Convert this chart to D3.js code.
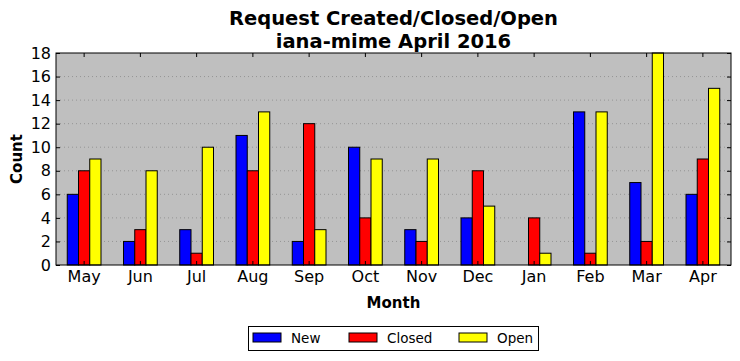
<!DOCTYPE html>
<html lang="en">
<head>
<meta charset="utf-8">
<script src="https://d3js.org/d3.v7.min.js"></script>
<style>
    body{ margin:0; padding:0; background:#fff; }
    svg{ display:block; font-family:"DejaVu Sans", sans-serif; }
</style>
</head>
<body>
<svg id="chart" width="740" height="361"></svg>
<script>
// values
const months=['May','Jun','Jul','Aug','Sep','Oct','Nov','Dec','Jan','Feb','Mar','Apr'];
const newCounts=[6,2,3,11,2,10,3,4,0,13,7,6];
const closedCounts=[8,3,1,8,12,4,2,8,4,1,2,9];
const openCounts=[9,8,10,13,3,9,9,5,1,13,18,15];
const yTicks=[0,2,4,6,8,10,12,14,16,18];

const series=[
    {name:'New',values:newCounts,color:'#0000ff'},
    {name:'Closed',values:closedCounts,color:'#ff0000'},
    {name:'Open',values:openCounts,color:'#ffff00'}
];

const plotL=56,plotR=731,plotT=53,plotB=265;
const svg=d3.select('#chart');

const xScale=d3.scaleBand().domain(months).range([plotL,plotR]);
const yScale=d3.scaleLinear().domain([0,18]).range([plotB,plotT]);
const barW=xScale.bandwidth()*0.2;

svg.append('rect')
   .attr('x',plotL).attr('y',plotT)
   .attr('width',plotR-plotL).attr('height',plotB-plotT)
   .attr('fill','#bfbfbf');

// dotted grid
svg.append('g').selectAll('line')
   .data(yTicks.slice(1,-1))
   .enter().append('line')
   .attr('x1',plotL).attr('x2',plotR)
   .attr('y1',d=>yScale(d)).attr('y2',d=>yScale(d))
   .attr('stroke','#8a8a8a').attr('stroke-width',0.8)
   .attr('stroke-dasharray','1,3');

series.forEach((s,si)=>{
    svg.append('g').selectAll('rect')
       .data(s.values)
       .enter().append('rect')
       .attr('x',(d,i)=>xScale(months[i])+xScale.bandwidth()/2+(si-1.5)*barW)
       .attr('y',d=>yScale(d))
       .attr('width',barW)
       .attr('height',d=>plotB-yScale(d))
       .attr('fill',s.color)
       .attr('stroke','#000')
       .attr('stroke-width',d=>d>0?1:0);
});

// axes with inward ticks on all sides
const xAxisB=d3.axisBottom(xScale).tickSize(-4).tickPadding(6);
const xAxisT=d3.axisTop(xScale).tickSize(-4).tickFormat('');
const yAxisL=d3.axisLeft(yScale).tickValues(yTicks).tickSize(-4).tickPadding(5);
const yAxisR=d3.axisRight(yScale).tickValues(yTicks).tickSize(-4).tickFormat('');

svg.append('g').attr('transform','translate(0,'+plotB+')').call(xAxisB);
svg.append('g').attr('transform','translate(0,'+plotT+')').call(xAxisT);
svg.append('g').attr('transform','translate('+plotL+',0)').call(yAxisL);
svg.append('g').attr('transform','translate('+plotR+',0)').call(yAxisR);

svg.selectAll('.domain').remove();
svg.selectAll('.tick text')
   .attr('font-family','"DejaVu Sans", sans-serif')
   .attr('font-size',16).attr('fill','#000');
svg.selectAll('.tick line').attr('stroke','#000');

svg.append('rect')
   .attr('x',plotL).attr('y',plotT)
   .attr('width',plotR-plotL).attr('height',plotB-plotT)
   .attr('fill','none').attr('stroke','#000').attr('stroke-width',1);

svg.append('text')
   .attr('x',(plotL+plotR)/2).attr('y',25)
   .attr('text-anchor','middle').attr('font-size',19.5).attr('font-weight','bold')
   .text('Request Created/Closed/Open');
svg.append('text')
   .attr('x',(plotL+plotR)/2).attr('y',48)
   .attr('text-anchor','middle').attr('font-size',19.5).attr('font-weight','bold')
   .text('iana-mime April 2016');

svg.append('text')
   .attr('x',(plotL+plotR)/2).attr('y',308)
   .attr('text-anchor','middle').attr('font-size',15).attr('font-weight','bold')
   .text('Month');
svg.append('text')
   .attr('transform','translate(22,'+((plotT+plotB)/2)+') rotate(-90)')
   .attr('text-anchor','middle').attr('font-size',15).attr('font-weight','bold')
   .text('Count');

// legend
const leg=svg.append('g');
leg.append('rect')
   .attr('x',248.5).attr('y',326.5).attr('width',290).attr('height',24)
   .attr('fill','#fff').attr('stroke','#000');
const legX=[253,349,459];
series.forEach((s,i)=>{
    leg.append('rect')
       .attr('x',legX[i]).attr('y',333).attr('width',28).attr('height',9)
       .attr('fill',s.color).attr('stroke','#000');
    leg.append('text')
       .attr('x',legX[i]+38).attr('y',343)
       .attr('font-size',13.5).text(s.name);
});
</script>
</body>
</html>
